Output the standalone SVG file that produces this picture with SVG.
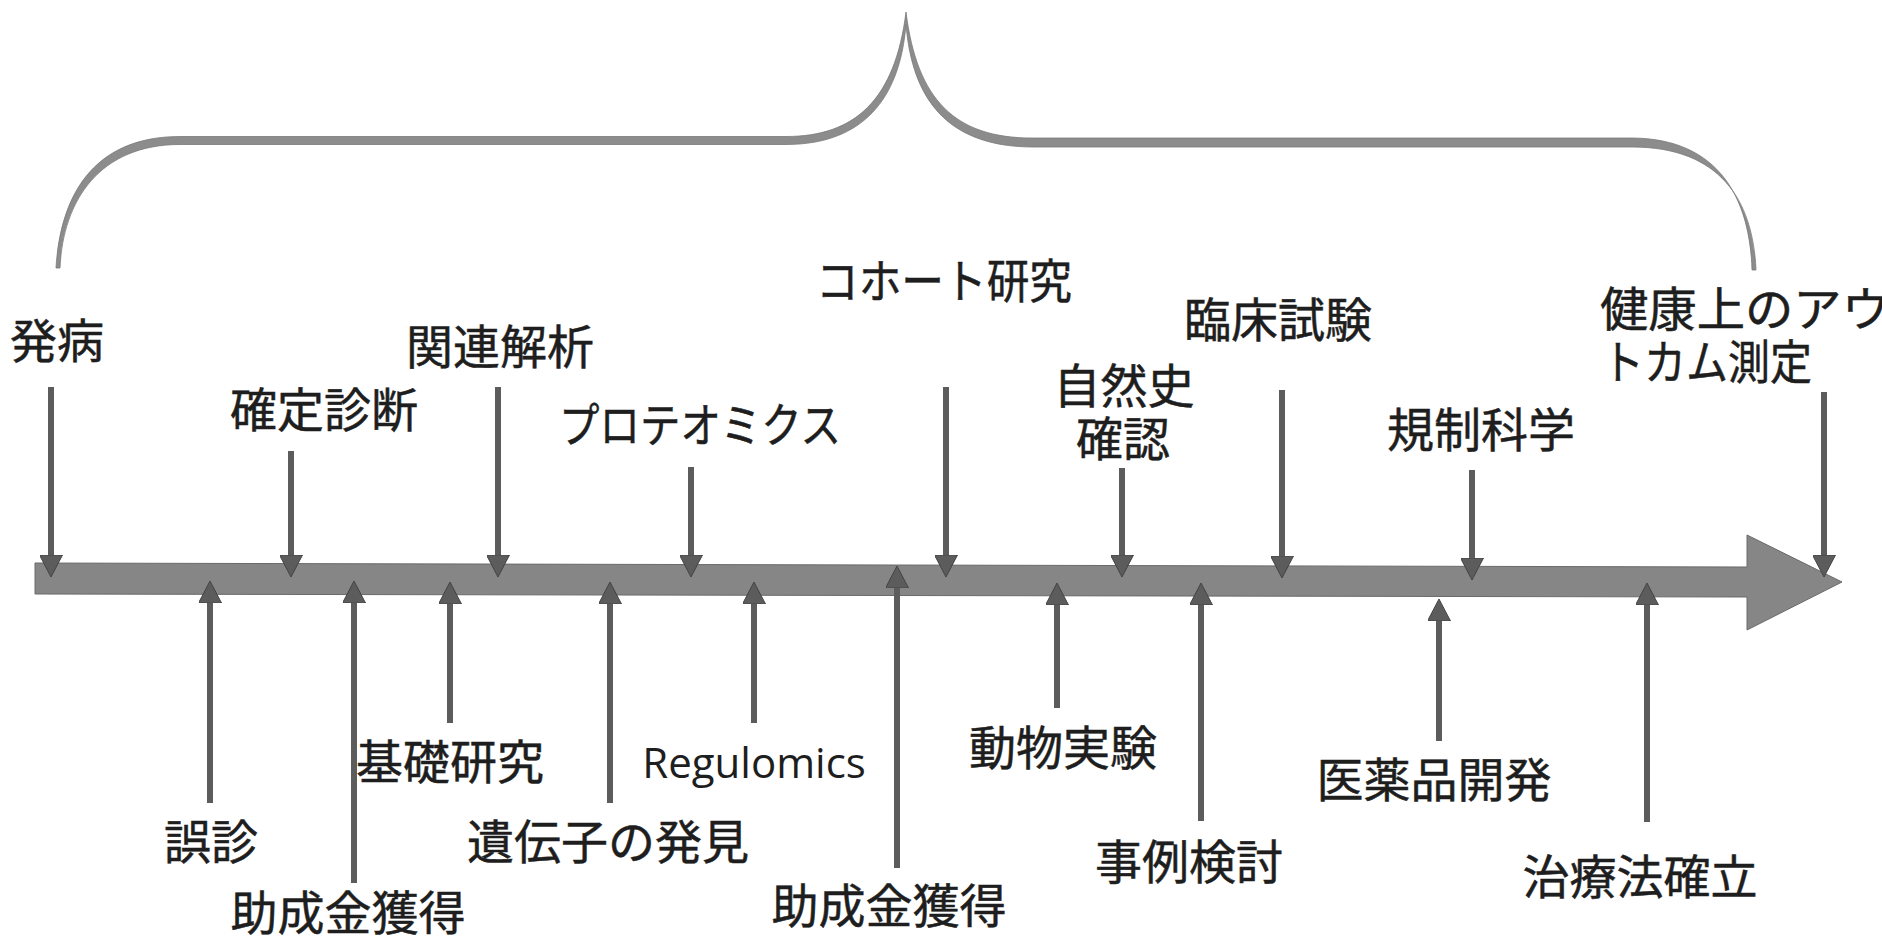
<svg xmlns="http://www.w3.org/2000/svg" width="1882" height="943" viewBox="0 0 1882 943">
<style>
.lbl{font-family:"Noto Sans CJK JP","Noto Sans CJK SC",sans-serif;font-size:47px;fill:#1e1e1e;stroke:#1e1e1e;stroke-width:0.5;text-anchor:middle}
.lat{font-family:"Open Sans","Liberation Sans",sans-serif;font-size:42px;fill:#1e1e1e;text-anchor:middle}
.arr{stroke:#5c5c5c;stroke-width:6;fill:none;marker-end:url(#ah)}
</style>
<defs>
<marker id="ah" markerUnits="userSpaceOnUse" viewBox="0 0 22 23" markerWidth="22" markerHeight="23" refX="10" refY="11.5" orient="auto">
<path d="M0,0 L22,11.5 L0,23 Z" fill="#5c5c5c" stroke="#444" stroke-width="1"/>
</marker>
</defs>
<rect width="1882" height="943" fill="#fff"/>
<g id="brace">
<path d="M56,268 C60,200 90,136.5 180,136.5 L786,136.5 C855,136.5 895,100 906,12 C917,100 955,138 1032,138 L1632,138 C1720,138.5 1750,200 1752,270 L1756,270 C1753,200 1720,147 1632,147 L1032,147 C948,146.5 912,100 906,24 C900,100 862,144.5 786,144.5 L180,144.5 C100,144.5 63,200 60,268 Z" fill="#8c8c8c" stroke="#7a7a7a" stroke-width="0.8"/>
</g>
<g id="timeline">
<polygon points="35,563 1747,567 1747,535 1842,582 1747,630 1747,597 35,594" fill="#868686" stroke="#6a6a6a" stroke-width="1"/>
</g>
<g id="connectors">
<line class="arr" x1="51" y1="387" x2="51" y2="565"/>
<line class="arr" x1="291" y1="451" x2="291" y2="565"/>
<line class="arr" x1="498" y1="387" x2="498" y2="565"/>
<line class="arr" x1="691" y1="467" x2="691" y2="565"/>
<line class="arr" x1="946" y1="387" x2="946" y2="565"/>
<line class="arr" x1="1122" y1="468" x2="1122" y2="565"/>
<line class="arr" x1="1282" y1="390" x2="1282" y2="566"/>
<line class="arr" x1="1472" y1="470" x2="1472" y2="568"/>
<line class="arr" x1="1824" y1="392" x2="1824" y2="565"/>
<line class="arr" x1="210" y1="803" x2="210" y2="593"/>
<line class="arr" x1="354" y1="883" x2="354" y2="593"/>
<line class="arr" x1="450" y1="723" x2="450" y2="594"/>
<line class="arr" x1="610" y1="803" x2="610" y2="594"/>
<line class="arr" x1="754" y1="723" x2="754" y2="594"/>
<line class="arr" x1="897" y1="868" x2="897" y2="578"/>
<line class="arr" x1="1057" y1="708" x2="1057" y2="595"/>
<line class="arr" x1="1201" y1="821" x2="1201" y2="595"/>
<line class="arr" x1="1439" y1="741" x2="1439" y2="611"/>
<line class="arr" x1="1647" y1="822" x2="1647" y2="595"/>
</g>
<g id="n-hatsubyo"><text class="lbl" x="57" y="358">発病</text></g>
<g id="n-kakutei"><text class="lbl" x="324" y="427">確定診断</text></g>
<g id="n-kanren"><text class="lbl" x="500" y="364">関連解析</text></g>
<g id="n-proteomics"><text class="lbl" x="700" y="442" textLength="282" lengthAdjust="spacingAndGlyphs">プロテオミクス</text></g>
<g id="n-cohort"><text class="lbl" x="944" y="298" textLength="256" lengthAdjust="spacingAndGlyphs">コホート研究</text></g>
<g id="n-shizenshi"><text class="lbl" x="1124" y="403">自然史</text><text class="lbl" x="1123" y="456">確認</text></g>
<g id="n-rinsho"><text class="lbl" x="1278" y="337">臨床試験</text></g>
<g id="n-kisei"><text class="lbl" x="1481" y="447">規制科学</text></g>
<g id="n-outcome"><text class="lbl" style="text-anchor:start" x="1600" y="326" textLength="290" lengthAdjust="spacingAndGlyphs">健康上のアウ</text><text class="lbl" style="text-anchor:start" x="1602" y="379" textLength="210" lengthAdjust="spacingAndGlyphs">トカム測定</text></g>
<g id="n-goshin"><text class="lbl" x="211" y="859">誤診</text></g>
<g id="n-josei1"><text class="lbl" x="348" y="930">助成金獲得</text></g>
<g id="n-kiso"><text class="lbl" x="450" y="779">基礎研究</text></g>
<g id="n-idenshi"><text class="lbl" x="608" y="859">遺伝子の発見</text></g>
<g id="n-regulomics"><text class="lat" x="754" y="778">Regulomics</text></g>
<g id="n-josei2"><text class="lbl" x="889" y="923">助成金獲得</text></g>
<g id="n-dobutsu"><text class="lbl" x="1063" y="765">動物実験</text></g>
<g id="n-jirei"><text class="lbl" x="1189" y="879">事例検討</text></g>
<g id="n-iyakuhin"><text class="lbl" x="1434" y="797">医薬品開発</text></g>
<g id="n-chiryo"><text class="lbl" x="1640" y="894">治療法確立</text></g>
</svg>
